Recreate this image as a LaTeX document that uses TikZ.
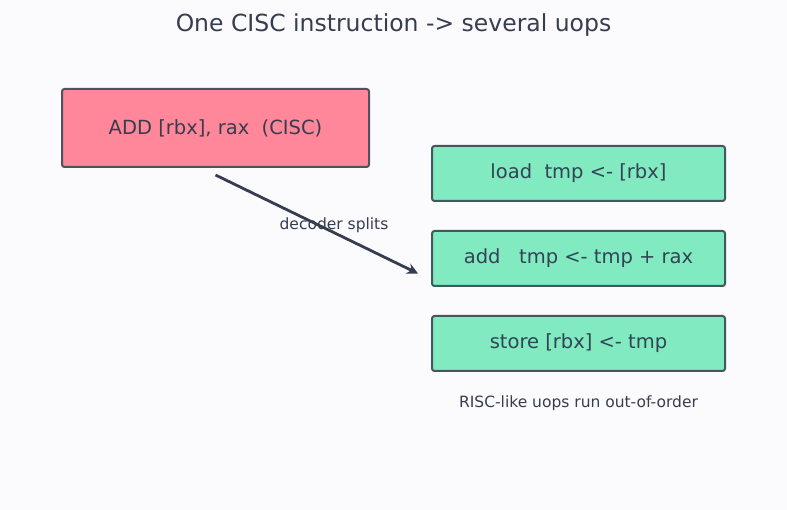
\documentclass[tikz,border=0pt]{standalone}
\usepackage{fontspec}
\setmainfont{DejaVu Sans}
\usetikzlibrary{arrows.meta,positioning,calc}
\definecolor{bgpage}{HTML}{FBFBFE}
\definecolor{ciscfill}{HTML}{FF8799}
\definecolor{uopfill}{HTML}{82EAC1}
\definecolor{edgegray}{HTML}{4D5361}
\definecolor{edgeteal}{HTML}{41585C}
\definecolor{inkdark}{HTML}{363D4F}

\begin{document}
\begin{tikzpicture}[
  x=1pt, y=-1pt,
  font=\fontsize{19.5}{22}\selectfont,
  cisc/.style={draw=edgegray, line width=2pt, rounded corners=2.5pt, fill=ciscfill,
    minimum width=307pt, minimum height=78pt, text=inkdark},
  uop/.style={draw=edgeteal, line width=2pt, rounded corners=2.5pt, fill=uopfill,
    minimum width=293pt, minimum height=55pt, text=inkdark!90!teal},
  arrow/.style={-{Stealth[length=11pt,width=11pt]}, line width=2.8pt, draw=inkdark},
  note/.style={font=\fontsize{15.5}{18}\selectfont, text=inkdark}
]
\fill[bgpage] (0,0) rectangle (787,510);
\useasboundingbox (0,0) rectangle (787,510);

\node[text=inkdark, font=\fontsize{23.5}{27}\selectfont] (title) at (393.5,25) {One CISC instruction -> several uops};

\node[cisc] (addcisc) at (215.5,128) {ADD [rbx], rax~~(CISC)};

\node[uop] (uopload) at (578.5,173.5) {load~~tmp <- [rbx]};
\node[uop, below=28pt of uopload] (uopadd) {add~~~tmp <- tmp + rax};
\node[uop, below=28pt of uopadd] (uopstore) {store [rbx] <- tmp};
\node[note, below=20pt of uopstore] (runnote) {RISC-like uops run out-of-order};

\coordinate (splitfrom) at ($(addcisc.south)+(0,7)$);
\coordinate (splitto) at ($(uopadd.west)+(-13,15)$);
\draw[arrow] (splitfrom) -- (splitto);
\node[note] (splitlabel) at (334,225) {decoder splits};
\end{tikzpicture}
\end{document}
